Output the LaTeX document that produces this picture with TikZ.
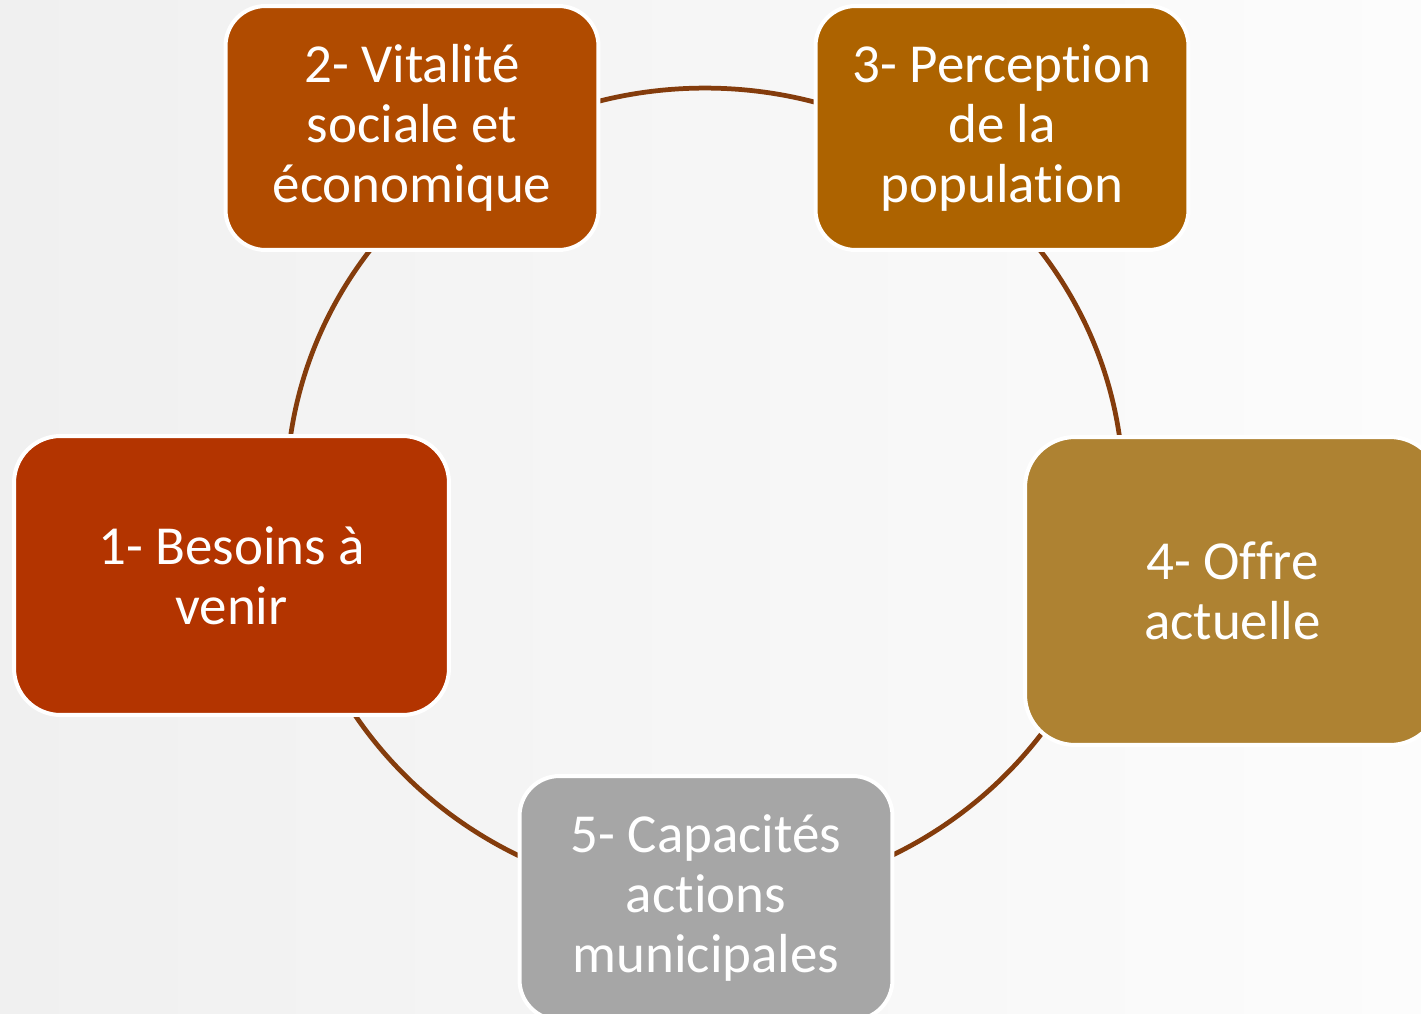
\documentclass[tikz,border=0pt]{standalone}
\usepackage{fontspec}
\setmainfont{Carlito}[Ligatures=NoCommon]
\definecolor{bgleft}{HTML}{F0F0F0}
\definecolor{bgright}{HTML}{FCFCFC}
\definecolor{ringcol}{HTML}{843C0C}
\definecolor{stepA}{HTML}{B33400}
\definecolor{stepB}{HTML}{B04B00}
\definecolor{stepC}{HTML}{AD6300}
\definecolor{stepD}{HTML}{AE8232}
\definecolor{stepE}{HTML}{A6A6A6}
\begin{document}
\begin{tikzpicture}[x=0.02cm,y=-0.02cm,
  stage/.style={draw=white, line width=0.08cm, text=white, align=center,
    inner sep=0pt, font=\fontsize{31.3}{34.1}\selectfont},
  smallstage/.style={stage, minimum width=7.46cm, minimum height=4.88cm,
    rounded corners=0.8cm},
  ring/.style={draw=ringcol, line width=0.095cm}]
\useasboundingbox (0,0) rectangle (1421,1014);
\clip (0,0) rectangle (1421,1014);
% soft grey backdrop
\shade[left color=bgleft, right color=bgright] (0,0) rectangle (1421,1014);

% the cycle ring behind the five stages
\coordinate (hub) at (705,493);
\draw[ring] (hub) ellipse [x radius=8.372cm, y radius=8.1cm];

% the five stages
\node[stage, fill=stepA, minimum width=8.7cm, minimum height=5.58cm,
      rounded corners=0.93cm] (s1) at (231.5,575.5) {1- Besoins à\\venir};
\node[smallstage, fill=stepB] (s2) at (412,128) {2- Vitalité\\sociale et\\économique};
\node[smallstage, fill=stepC] (s3) at (1002,128) {3- Perception\\de la\\population};
\node[stage, fill=stepD, minimum width=8.3cm, minimum height=6.16cm,
      rounded corners=1.0cm] (s4) at (1232.5,591) {4- Offre\\actuelle};
\node[smallstage, fill=stepE] (s5) at (706,898) {5- Capacités\\actions\\municipales};
\end{tikzpicture}
\end{document}
